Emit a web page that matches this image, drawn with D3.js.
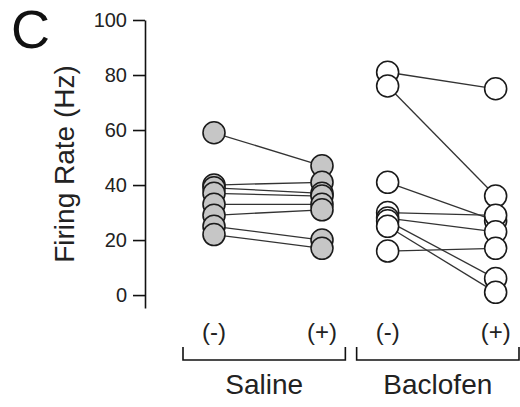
<!DOCTYPE html>
<html>
<head>
<meta charset="utf-8">
<script src="https://cdn.jsdelivr.net/npm/d3@7/dist/d3.min.js"></script>
<style>
  html, body { margin: 0; padding: 0; background: #fff; }
  svg { display: block; font-family: "Liberation Sans", Arial, Helvetica, sans-serif; }
</style>
</head>
<body>
<svg id="chart" width="520" height="407"></svg>
<script>
// Firing rate per cell before (-) and after (+) injection, paired by index
const groups = ["Saline", "Baclofen"];
const conditions = ["(-)", "(+)"];
const salinePre  = [59, 40, 39, 37, 33, 29, 25, 22];
const salinePost = [47, 41, 37, 36, 33, 31, 20, 17];
const baclofenPre  = [81, 76, 41, 30, 28, 27, 25, 16];
const baclofenPost = [75, 36, 27, 29, 23, 6, 1, 17];
const yTicks = [0, 20, 40, 60, 80, 100];
const groupFill = { Saline: "#c6c6c6", Baclofen: "#ffffff" };

const data = [
  { group: "Saline", pre: salinePre, post: salinePost },
  { group: "Baclofen", pre: baclofenPre, post: baclofenPost }
];

const svg = d3.select("#chart");

const y = d3.scaleLinear().domain([-4.7, 100]).range([308, 20]);
const xGroup = d3.scaleBand().domain(groups).range([183, 519]).paddingInner(0.065).paddingOuter(0);
const xCond = d3.scalePoint().domain(conditions).range([31, 139]);
const xPos = (g, c) => xGroup(g) + xCond(c);

// panel letter
svg.append("text")
  .attr("x", 11).attr("y", 48)
  .attr("font-size", 54)
  .attr("fill", "#111")
  .text("C");

// y axis
const yAxis = svg.append("g")
  .attr("transform", "translate(145,0)")
  .call(d3.axisLeft(y).tickValues(yTicks).tickSize(12).tickSizeOuter(0).tickPadding(6));
yAxis.select(".domain").attr("stroke", "#111").attr("stroke-width", 1.6);
yAxis.selectAll(".tick line").attr("stroke", "#111").attr("stroke-width", 1.6);
yAxis.selectAll(".tick text")
  .attr("font-size", 20)
  .attr("fill", "#222")
  .attr("font-family", "Liberation Sans, Arial, sans-serif");

svg.append("text")
  .attr("transform", "translate(74,164) rotate(-90)")
  .attr("text-anchor", "middle")
  .attr("font-size", 28)
  .attr("fill", "#222")
  .text("Firing Rate (Hz)");

// paired lines and markers
data.forEach(d => {
  const g = svg.append("g");
  const pairs = d.pre.map((v, i) => ({ pre: v, post: d.post[i] }));
  g.selectAll("line.pair").data(pairs).join("line")
    .attr("class", "pair")
    .attr("x1", xPos(d.group, "(-)"))
    .attr("x2", xPos(d.group, "(+)"))
    .attr("y1", p => y(p.pre))
    .attr("y2", p => y(p.post))
    .attr("stroke", "#333")
    .attr("stroke-width", 1.3);

  const pts = [];
  pairs.forEach(p => { pts.push({ c: "(-)", v: p.pre }); });
  pairs.forEach(p => { pts.push({ c: "(+)", v: p.post }); });
  g.selectAll("circle").data(pts).join("circle")
    .attr("cx", p => xPos(d.group, p.c))
    .attr("cy", p => y(p.v))
    .attr("r", 11)
    .attr("fill", groupFill[d.group])
    .attr("stroke", "#1a1a1a")
    .attr("stroke-width", 1.6);
});

// condition labels, brackets and group names
groups.forEach(gname => {
  conditions.forEach(c => {
    svg.append("text")
      .attr("x", xPos(gname, c))
      .attr("y", 340)
      .attr("text-anchor", "middle")
      .attr("font-size", 24)
      .attr("fill", "#222")
      .text(c);
  });
  const x0 = xGroup(gname), x1 = x0 + xGroup.bandwidth();
  svg.append("path")
    .attr("d", `M${x0},347V360H${x1}V347`)
    .attr("fill", "none")
    .attr("stroke", "#111")
    .attr("stroke-width", 1.6);
  svg.append("text")
    .attr("x", (x0 + x1) / 2)
    .attr("y", 394)
    .attr("text-anchor", "middle")
    .attr("font-size", 28)
    .attr("fill", "#222")
    .text(gname);
});
</script>
</body>
</html>
